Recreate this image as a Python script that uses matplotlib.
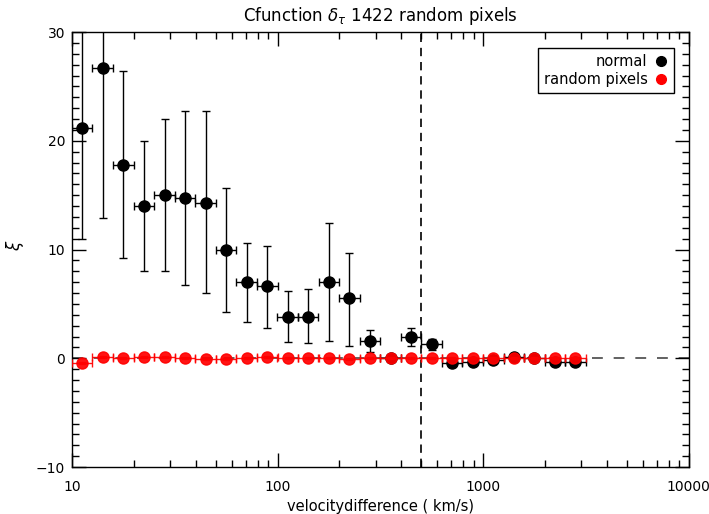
import numpy as np
import matplotlib
matplotlib.use("Agg")
import matplotlib.pyplot as plt
from matplotlib.ticker import MultipleLocator
from matplotlib.lines import Line2D

# bin centres (km/s)
vel = [11.2, 14.1, 17.8, 22.4, 28.2, 35.5, 44.7, 56.2, 70.8, 89.1,
       112, 141, 178, 224, 282, 355, 447, 562, 708, 891,
       1122, 1413, 1778, 2239, 2818]

# normal
xi_norm = [21.2, 26.7, 17.8, 14.0, 15.0, 14.7, 14.3, 10.0, 7.0, 6.6,
           3.8, 3.8, 7.0, 5.5, 1.6, 0.05, 2.0, 1.3, -0.4, -0.3,
           -0.2, 0.1, 0.05, -0.3, -0.3]
norm_lo = [11.0, 12.9, 9.2, 8.0, 8.0, 6.7, 6.0, 4.3, 3.3, 2.8,
           1.5, 1.4, 1.6, 1.1, 0.6, -0.05, 1.15, 0.8, -0.5, -0.4,
           -0.3, 0.0, -0.05, -0.4, -0.4]
norm_hi = [35.0, 40.0, 26.4, 20.0, 22.0, 22.7, 22.7, 15.7, 10.6, 10.3,
           6.2, 6.4, 12.4, 9.7, 2.6, 0.15, 2.8, 1.8, -0.3, -0.2,
           -0.1, 0.2, 0.15, -0.2, -0.2]

# random pixels
xi_rand = [-0.4, 0.15, 0.0, 0.15, 0.1, 0.0, -0.05, -0.1, 0.0, 0.1,
           0.0, 0.0, 0.0, -0.05, 0.0, 0.0, 0.0, 0.0, 0.0, 0.0,
           0.0, 0.0, 0.0, 0.0, 0.0]
rand_err = [0.1] * 25

vel = np.array(vel)
xlo = vel - vel / 10**0.05
xhi = vel * 10**0.05 - vel
xn = np.array(xi_norm)
yerr_n = [xn - np.array(norm_lo), np.array(norm_hi) - xn]

fig = plt.figure(figsize=(7.09, 5.14), dpi=100)
ax = fig.add_axes([0.1016, 0.0914, 0.8695, 0.8463])

ax.axhline(0, color="#555555", lw=1.3, ls=(0, (6, 6)), zorder=1)
ax.axvline(500, color="black", lw=1.2, ls=(0, (5, 3.5)), zorder=1)

ax.errorbar(vel, xi_norm, xerr=[xlo, xhi], yerr=yerr_n, fmt="o", color="black",
            ms=8, elinewidth=1, capsize=3, capthick=1, zorder=2)
ax.errorbar(vel, xi_rand, xerr=[xlo, xhi], yerr=rand_err, fmt="o", color="red",
            ms=8, elinewidth=1, capsize=3, capthick=1, alpha=0.92, zorder=3)

ax.set_xscale("log")
ax.set_xlim(10, 10000)
ax.set_ylim(-10, 30)
ax.yaxis.set_major_locator(MultipleLocator(10))
ax.yaxis.set_minor_locator(MultipleLocator(1))
ax.set_xticks([10, 100, 1000, 10000])
ax.set_xticklabels(["10", "100", "1000", "10000"])
ax.tick_params(which="both", direction="in", top=True, right=True,
               labelsize=10, width=1)
ax.tick_params(axis="x", pad=9)
ax.tick_params(axis="y", pad=5)
ax.tick_params(which="major", length=10)
ax.tick_params(which="minor", length=5)
for s in ax.spines.values():
    s.set_linewidth(1)

ax.set_xlabel("velocitydifference ( km/s)", fontsize=10.5, labelpad=4)
ax.set_ylabel(r"$\xi$", fontsize=12)
ax.yaxis.set_label_coords(-0.075, 0.51)
ax.set_title(r"Cfunction $\delta_\tau$ 1422 random pixels", fontsize=12, pad=8)

handles = [Line2D([], [], ls="none", marker="o", color="black", ms=7),
           Line2D([], [], ls="none", marker="o", color="red", ms=7)]
leg = ax.legend(handles, ["normal", "random pixels"], loc="upper right",
                markerfirst=False, fontsize=10.5, frameon=True, fancybox=False,
                edgecolor="black", framealpha=1, handlelength=1,
                handletextpad=0.4, borderpad=0.4, labelspacing=0.2,
                borderaxespad=0, bbox_to_anchor=(0.976, 0.963))
leg.get_frame().set_linewidth(1)
for t in leg.get_texts():
    t.set_ha("right")

fig.savefig("out.png", dpi=100)
